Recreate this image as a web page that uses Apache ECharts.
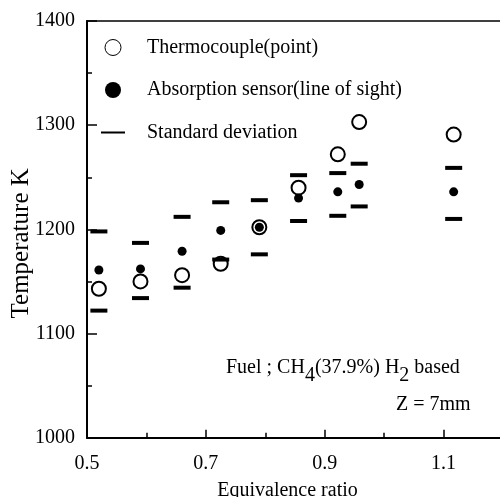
<!DOCTYPE html>
<html>
<head>
<meta charset="utf-8">
<script src="https://cdn.jsdelivr.net/npm/echarts@6/dist/echarts.min.js"></script>
<style>
  html, body { margin: 0; padding: 0; background: #fff; }
  #chart { width: 500px; height: 497px; }
</style>
</head>
<body>
<div id="chart"></div>
<script>
// Equivalence ratio of each measurement
const ratio = [0.52, 0.59, 0.66, 0.725, 0.79, 0.856, 0.922, 0.958, 1.117];
// Thermocouple (point) temperature, K
const thermocouple = [1143, 1150, 1156, 1167, 1202, 1240, 1272, 1303, 1291];
// Absorption sensor (line of sight) temperature, K
const absorption = [1161, 1162, 1179, 1199, 1202, 1230, 1236, 1243, 1236];
// Standard deviation band of the absorption sensor, K
const stdUpper = [1198, 1187, 1212, 1226, 1228, 1252, 1254, 1263, 1259];
const stdLower = [1122, 1134, 1144, 1171, 1176, 1208, 1213, 1222, 1210];
// Axis ticks
const xMajorTicks = [0.5, 0.7, 0.9, 1.1];
const xMinorTicks = [0.6, 0.8, 1.0, 1.2];

const seriesNames = ['Thermocouple(point)', 'Absorption sensor(line of sight)', 'Standard deviation'];

const font = 'Liberation Serif';
const chart = echarts.init(document.getElementById('chart'), null, { renderer: 'canvas' });

const pairs = (xs, ys) => xs.map((x, i) => [x, ys[i]]);

chart.setOption({
  animation: false,
  backgroundColor: '#fff',
  textStyle: { fontFamily: font, color: '#000' },
  grid: {
    left: 87, top: 21, width: 416, height: 416.7,
    outerBoundsMode: 'none', containLabel: false,
    show: true, borderColor: '#000', borderWidth: 1.5, backgroundColor: 'transparent'
  },
  legend: {
    orient: 'vertical', left: 84, top: 37.5, padding: 0,
    itemWidth: 58, itemHeight: 16, itemGap: 22.5,
    selectedMode: false,
    textStyle: { fontFamily: font, fontSize: 20, color: '#000', lineHeight: 16 },
    data: [
      { name: seriesNames[0], icon: 'circle', itemStyle: { color: '#fff', borderColor: '#000', borderWidth: 1 } },
      { name: seriesNames[1], icon: 'circle', itemStyle: { color: '#000', borderWidth: 0 } },
      { name: seriesNames[2], icon: 'path://M0,0M17,7L41,7L41,9L17,9ZM58,16', itemStyle: { color: '#000', borderWidth: 0 } }
    ]
  },
  xAxis: [
    {
      type: 'value', min: 0.5, max: 1.2, position: 'bottom',
      name: 'Equivalence ratio', nameLocation: 'middle', nameGap: 43, nameMoveOverlap: false,
      nameTextStyle: { fontFamily: font, fontSize: 20, color: '#000', padding: [0, 15, 0, 0] },
      axisLine: { show: true, lineStyle: { color: '#000', width: 2 } },
      axisTick: { show: true, inside: true, length: 8, lineStyle: { color: '#000', width: 1.5 }, customValues: xMajorTicks },
      axisLabel: { show: true, margin: 16, fontFamily: font, fontSize: 20, color: '#000',
        customValues: xMajorTicks, formatter: v => v.toFixed(1) },
      splitLine: { show: false }
    },
    {
      type: 'value', min: 0.5, max: 1.2, position: 'bottom',
      axisLine: { show: false },
      axisTick: { show: true, inside: true, length: 5, lineStyle: { color: '#000', width: 1.5 }, customValues: xMinorTicks },
      axisLabel: { show: false },
      splitLine: { show: false }
    }
  ],
  yAxis: {
    type: 'value', min: 1000, max: 1400, interval: 100,
    name: 'Temperature K', nameLocation: 'middle', nameGap: 53, nameRotate: 90, nameMoveOverlap: false,
    nameTextStyle: { fontFamily: font, fontSize: 25, color: '#000', padding: [0, 28, 0, 0] },
    axisLine: { show: true, lineStyle: { color: '#000', width: 2 } },
    axisTick: { show: true, inside: true, length: 10, lineStyle: { color: '#000', width: 1.5 } },
    minorTick: { show: true, splitNumber: 2, length: 5, lineStyle: { color: '#000', width: 1.5 } },
    axisLabel: { margin: 12, fontFamily: font, fontSize: 20, color: '#000', formatter: v => String(v) },
    splitLine: { show: false }
  },
  series: [
    {
      name: seriesNames[0], type: 'scatter', xAxisIndex: 0, z: 2,
      symbol: 'circle', symbolSize: 14,
      itemStyle: { color: '#fff', borderColor: '#000', borderWidth: 2, opacity: 1 },
      data: pairs(ratio, thermocouple)
    },
    {
      name: seriesNames[1], type: 'scatter', xAxisIndex: 0, z: 3,
      symbol: 'circle', symbolSize: 9,
      itemStyle: { color: '#000', opacity: 1 },
      data: pairs(ratio, absorption)
    },
    {
      name: seriesNames[2], type: 'scatter', xAxisIndex: 0, z: 4,
      symbol: 'rect', symbolSize: [17, 4],
      itemStyle: { color: '#000', opacity: 1 },
      data: pairs(ratio, stdUpper).concat(pairs(ratio, stdLower))
    }
  ],
  graphic: [
    {
      type: 'text', left: 226, top: 358, silent: true,
      style: {
        text: '{n|Fuel ; CH}{s|4}{n|(37.9%) H}{s|2}{n| based}',
        rich: {
          n: { fontFamily: font, fontSize: 20, fill: '#000' },
          s: { fontFamily: font, fontSize: 20, fill: '#000', padding: [16, 0, 0, 0] }
        }
      }
    },
    {
      type: 'text', left: 396, top: 395, silent: true,
      style: { text: 'Z = 7mm', fontFamily: font, fontSize: 20, fill: '#000' }
    }
  ]
});
</script>
</body>
</html>
